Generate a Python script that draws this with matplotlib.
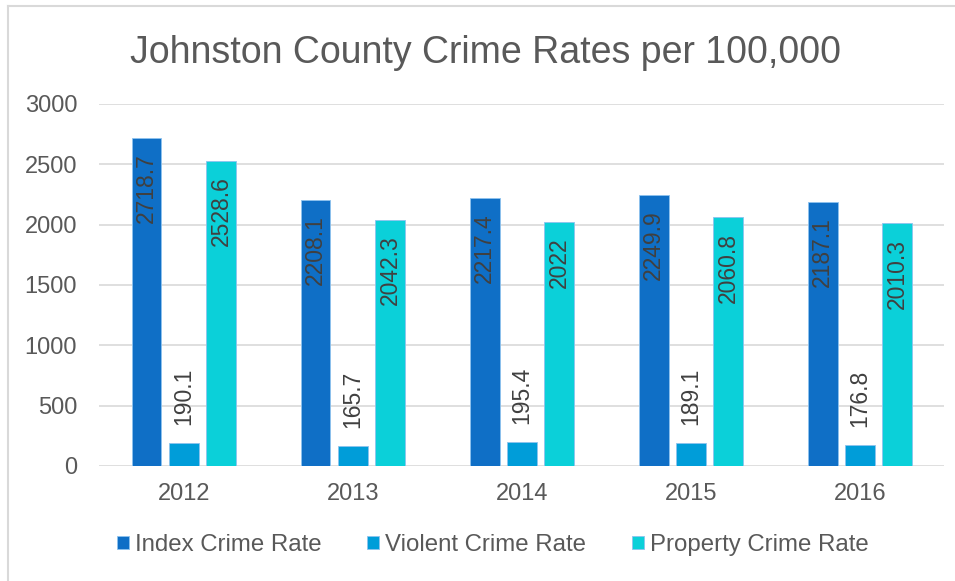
import numpy as np
import matplotlib.pyplot as plt
from matplotlib.lines import Line2D

plt.rcParams['font.family'] = ['Liberation Sans', 'DejaVu Sans']

years = ['2012', '2013', '2014', '2015', '2016']
index_rate = [2718.7, 2208.1, 2217.4, 2249.9, 2187.1]
violent_rate = [190.1, 165.7, 195.4, 189.1, 176.8]
property_rate = [2528.6, 2042.3, 2022, 2060.8, 2010.3]
labels = ['Index Crime Rate', 'Violent Crime Rate', 'Property Crime Rate']
colors = ['#0F6FC6', '#009DD9', '#0BD0D9']

txt = '#595959'
lbl = '#404040'

fig = plt.figure(figsize=(9.55, 5.81), dpi=100)
ax = fig.add_axes([0.104, 0.198, 0.885, 0.623])

# chart border (left and top only visible)
fig.add_artist(Line2D([0.008, 0.008], [0.0, 0.99], transform=fig.transFigure,
                      color='#D9D9D9', lw=1.5))
fig.add_artist(Line2D([0.008, 1.0], [0.99, 0.99], transform=fig.transFigure,
                      color='#D9D9D9', lw=1.5))

x = np.arange(len(years))
w = 0.175
step = 0.22
series = [index_rate, violent_rate, property_rate]
for i, (vals, c, name) in enumerate(zip(series, colors, labels)):
    pos = x + (i - 1) * step
    bars = ax.bar(pos, vals, width=w, color=c, edgecolor='#8EC3EE', linewidth=0.6,
                  label=name, zorder=3)
    for b, v in zip(bars, vals):
        s = f'{v:g}'
        if i == 1:
            ax.annotate(s, (b.get_x() + b.get_width() / 2, v), xytext=(0, 13),
                        textcoords='offset points', rotation=90, ha='center',
                        va='bottom', fontsize=16.5, color=lbl, zorder=4)
        else:
            ax.annotate(s, (b.get_x() + b.get_width() / 2, v), xytext=(0, -11),
                        textcoords='offset points', rotation=90, ha='center',
                        va='top', fontsize=16.5, color=lbl, zorder=4)

ax.set_ylim(0, 3000)
ax.set_xlim(-0.5, 4.5)
ax.set_yticks(np.arange(0, 3001, 500))
ax.set_xticks(x)
ax.set_xticklabels(years)
ax.grid(axis='y', color='#D9D9D9', lw=1.2, zorder=0)
for sp in ax.spines.values():
    sp.set_visible(False)
ax.tick_params(axis='both', length=0, labelsize=17, labelcolor=txt)
ax.tick_params(axis='y', pad=16)
ax.tick_params(axis='x', pad=12)

fig.text(0.508, 0.908, 'Johnston County Crime Rates per 100,000', ha='center',
         va='center', fontsize=27, color=txt)

fig.legend(loc='center', bbox_to_anchor=(0.516, 0.062), ncol=3, frameon=False,
           fontsize=17.3, labelcolor=txt, handlelength=0.5, handleheight=0.5,
           handletextpad=0.25, columnspacing=1.9)

fig.savefig('out.png', dpi=100)
